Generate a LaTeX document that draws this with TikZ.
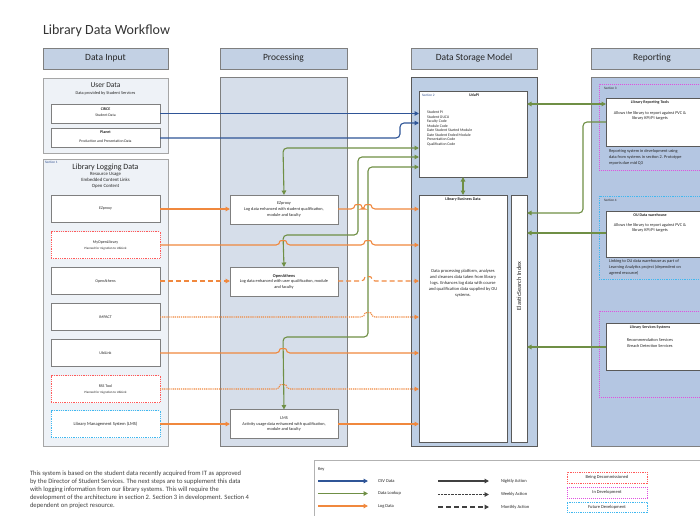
\documentclass[tikz,border=0pt]{standalone}
\usepackage{fontspec}
\setmainfont{Carlito}
\usetikzlibrary{arrows.meta}
\definecolor{cBlue}{HTML}{2F5597}
\definecolor{cGreen}{HTML}{6F8F45}
\definecolor{cOrange}{HTML}{F0883E}
\definecolor{hdrFill}{HTML}{C3D1E4}
\definecolor{inFill}{HTML}{EEF2F7}
\definecolor{procFill}{HTML}{D6DEEA}
\definecolor{storeFill}{HTML}{BDCEE4}
\definecolor{repFill}{HTML}{B4C6E2}
\definecolor{edgeGray}{HTML}{7F7F7F}
\definecolor{txt}{HTML}{262626}
\definecolor{secBlue}{HTML}{2F4F8F}
\definecolor{decomRed}{HTML}{FF5A5A}
\definecolor{devMag}{HTML}{E050E0}
\definecolor{futCyan}{HTML}{40B8F0}
\newcommand\hop[2]{-- (#1-3,#2) .. controls (#1-3,#2-4.5) and (#1+3,#2-4.5) .. (#1+3,#2)}
\begin{document}
\begin{tikzpicture}[x=1pt,y=-1pt,
  >={Triangle[length=4.5pt,width=4.5pt]},
  every node/.style={inner sep=0pt, outer sep=0pt, text=txt, font=\fontsize{4}{5}\selectfont},
  hdrBox/.style={draw=edgeGray, fill=hdrFill, line width=0.9pt, minimum width=#1, minimum height=21pt, font=\fontsize{9.5}{11}\selectfont},
  colBox/.style={draw=edgeGray, line width=0.9pt, minimum width=#1, minimum height=369pt},
  grpBox/.style={draw=gray!70, fill=inFill, line width=0.9pt, minimum width=125pt},
  inBox/.style={draw=edgeGray, fill=white, line width=0.9pt, minimum width=109pt, minimum height=27pt, align=center},
  procBox/.style={draw=edgeGray, fill=white, line width=0.7pt, minimum width=108pt, minimum height=29pt, align=center, font=\fontsize{4.3}{5.6}\selectfont},
  whiteBox/.style={draw=edgeGray!70!black, fill=white, line width=0.7pt},
  decomBox/.style={draw=decomRed, dash pattern=on 1pt off 0.8pt, line width=0.8pt},
  develBox/.style={draw=devMag, dash pattern=on 1.2pt off 0.8pt, line width=0.8pt},
  futureBox/.style={draw=futCyan, dash pattern=on 1pt off 0.8pt, line width=0.8pt},
  connLine/.style={line width=1.1pt, rounded corners=4pt},
  csvLine/.style={connLine, draw=cBlue, ->},
  lookLine/.style={connLine, draw=cGreen, ->},
  logLine/.style={connLine, draw=cOrange, ->},
  dashLog/.style={dash pattern=on 5pt off 3pt},
  dotLog/.style={dash pattern=on 1.2pt off 0.9pt},
  tinyTxt/.style={font=\fontsize{3.2}{4}\selectfont},
  smallTxt/.style={font=\fontsize{4.3}{5.6}\selectfont},
  boldTxt/.style={font=\fontsize{4}{5}\selectfont\bfseries},
  secTxt/.style={font=\fontsize{3.4}{4}\selectfont, anchor=west}
]
\useasboundingbox (0,0) rectangle (700,515);
\clip (0,0) rectangle (700,515);
\fill[white] (0,0) rectangle (700,515);

% title
\node[anchor=west, font=\fontsize{14}{16}\selectfont, text=black!80] (title) at (43,31) {Library Data Workflow};

% headers
\node[hdrBox=125pt] (hIn) at (105.5,58.5) {Data Input};
\node[hdrBox=127pt] (hProc) at (283.5,58.5) {Processing};
\node[hdrBox=126pt] (hStore) at (474,58.5) {Data Storage Model};
\node[hdrBox=122pt] (hRep) at (652,58.5) {Reporting};

% columns
\node[colBox=127pt, fill=procFill] (colProc) at (283.5,261.5) {};
\node[colBox=126pt, fill=storeFill, draw=black!65] (colStore) at (474,261.5) {};
\node[colBox=122pt, fill=repFill] (colRep) at (652,261.5) {};

% data input groups
\node[grpBox, minimum height=75pt] (userGrp) at (105.5,115.5) {};
\node[font=\fontsize{7.5}{9}\selectfont] (userT) at (105.5,85) {User Data};
\node[font=\fontsize{4.3}{5}\selectfont] (userS) at (105.5,93) {Data provided by Student Services};
\node[inBox, minimum height=19pt] (circe) at (105.5,113.5) {};
\node[boldTxt] (circeT) at (105.5,109.5) {CIRCE};
\node[tinyTxt, font=\fontsize{3.8}{4.5}\selectfont] (circeS) at (105.5,115.5) {Student Data};
\node[inBox, minimum height=19pt] (planet) at (105.5,138) {};
\node[boldTxt] (planetT) at (105.5,132.5) {Planet};
\node[font=\fontsize{3.8}{4.5}\selectfont] (planetS) at (105.5,141.5) {Production and Presentation Data};

\node[grpBox, minimum height=287pt] (logGrp) at (105.5,302.5) {};
\node[secTxt, text=secBlue] (sec1) at (45,162.5) {Section 1};
\node[font=\fontsize{8}{9}\selectfont] (logT) at (105.5,167.5) {Library Logging Data};
\node[font=\fontsize{4.8}{6.3}\selectfont, align=center, anchor=north] (logS) at (105.5,172) {Resource Usage\\Embedded Content Links\\Open Content};

\node[inBox] (ezpI) at (105.5,209) {EZproxy};
\node[inBox, decomBox, fill=white] (molI) at (105.5,245) {};
\node (molT) at (105.5,242.5) {MyOpenLibrary};
\node[tinyTxt] (molS) at (105.5,249) {Planned for migration to UbiLink};
\node[inBox] (oaI) at (105.5,281) {OpenAthens};
\node[inBox] (impI) at (105.5,317) {IMPACT};
\node[inBox] (ubiI) at (105.5,353) {UbiLink};
\node[inBox, decomBox, fill=white] (rssI) at (105.5,389) {};
\node (rssT) at (105.5,386) {RSS Tool};
\node[tinyTxt] (rssS) at (105.5,392.5) {Planned for migration to UbiLink};
\node[inBox, futureBox, fill=white, font=\fontsize{4.5}{5.5}\selectfont] (lmsI) at (105.5,424) {Library Management System (LMS)};

% processing
\node[procBox] (ezpP) at (284,209.5) {EZproxy\\Log data enhanced with student qualification,\\module and faculty};
\node[procBox] (oaP) at (284,281.5) {\textbf{OpenAthens}\\Log data enhanced with user qualification, module\\and faculty};
\node[procBox] (lmsP) at (284,424) {LMS\\Activity usage data enhanced with qualification,\\module and faculty};

% storage
\node[whiteBox, minimum width=108pt, minimum height=86pt] (udopi) at (473,134) {};
\node[secTxt, text=secBlue] (sec2) at (422,95) {Section 2};
\node[boldTxt] (udopiT) at (474,95) {UdaPI};
\node[anchor=north west, align=left, font=\fontsize{3.8}{4.5}\selectfont] (udopiL) at (427,111)
  {Student PI\\Student OUCU\\Faculty Code\\Module Code\\Date Student Started Module\\Date Student Ended Module\\Presentation Code\\Qualification Code};
\node[whiteBox, minimum width=88pt, minimum height=247pt] (lbd) at (463,318.5) {};
\node[boldTxt] (lbdT) at (463,199.5) {Library Business Data};
\node[align=center, font=\fontsize{4.5}{6}\selectfont] (lbdS) at (463,283)
  {Data processing platform, analyses\\and cleanses data taken from library\\logs. Enhances log data with course\\and qualification data supplied by OU\\systems.};
\node[whiteBox, minimum width=16pt, minimum height=247pt] (es) at (519,318.5) {};
\node[rotate=90, font=\fontsize{6.3}{7}\selectfont] (esT) at (519,286) {ElasticSearch Index};

% reporting
\node[develBox, fill=repFill, minimum width=106pt, minimum height=86pt] (sec3box) at (652,127) {};
\node[secTxt] (sec3) at (604,88) {Section 3};
\node[whiteBox, minimum width=96pt, minimum height=48pt] (rt) at (654,122) {};
\node[boldTxt] (rtT) at (650,102.5) {Library Reporting Tools};
\node[smallTxt, align=center] (rtS) at (650,116) {Allows the library to report against PVC \&\\library KPI/PI targets};
\node[smallTxt, align=left, anchor=north west] (rtN) at (609,150) {Reporting system in development using\\data from systems in section 2. Prototype\\reports due mid Q3};

\node[futureBox, fill=repFill, minimum width=106pt, minimum height=83pt] (sec4box) at (652,237.5) {};
\node[secTxt] (sec4) at (604,200) {Section 4};
\node[whiteBox, minimum width=96pt, minimum height=46pt] (oudw) at (654,234) {};
\node[boldTxt] (oudwT) at (650,215) {OU Data warehouse};
\node[smallTxt, align=center] (oudwS) at (650,228) {Allows the library to report against PVC \&\\library KPI/PI targets};
\node[smallTxt, align=left, anchor=north west] (oudwN) at (609,260) {Linking to OU data warehouse as part of\\Learning Analytics project (dependent on\\agreed resource)};

\node[develBox, fill=repFill, minimum width=106pt, minimum height=86pt] (sec5box) at (652,354) {};
\node[whiteBox, minimum width=96pt, minimum height=47pt] (lss) at (654,346.5) {};
\node[boldTxt] (lssT) at (650,327.5) {Library Services Systems};
\node[smallTxt, align=center] (lssS) at (650,343) {Recommendation Services\\Breach Detection Services};

% ---- connectors ----
% CSV
\draw[csvLine] (circe.east) -- (udopi.west |- circe.east);
\draw[csvLine] (planet.east) -- (400,138) -- (400,123) -- (udopi.west |- 0,123);
% lookups
\draw[lookLine, <->] (udopi.west |- 0,148) -- (283,148) -- (ezpP.north);
\draw[lookLine, <->] (udopi.west |- 0,157) -- (358,157) -- (358,235) -- (283,235) -- (oaP.north);
\draw[lookLine, <->] (udopi.west |- 0,167) -- (368,167) -- (368,337) -- (283,337) -- (lmsP.north);
\draw[lookLine, <->] (lbd.north) -- (lbd.north |- udopi.south);
\draw[lookLine, <->] (udopi.east |- 0,104) -- (rt.west |- 0,104);
\draw[lookLine] (rt.west |- 0,122) -- (583,122) -- (583,213) -- (es.east |- 0,213);
\draw[lookLine] (oudw.west |- 0,233) -- (es.east |- 0,233);
\draw[lookLine] (lss.west |- 0,347) -- (es.east |- 0,347);
% logs
\draw[logLine] (ezpI.east) -- (ezpP.west |- ezpI.east);
\draw[logLine] (ezpP.east |- ezpI.east) \hop{358}{209} \hop{368}{209} -- (lbd.west |- ezpI.east);
\draw[logLine] (molI.east) \hop{283}{245} \hop{368}{245} -- (lbd.west |- molI.east);
\draw[logLine, dashLog] (oaI.east) -- (oaP.west |- oaI.east);
\draw[logLine, dashLog] (oaP.east |- oaI.east) \hop{368}{281} -- (lbd.west |- oaI.east);
\draw[logLine, dotLog] (impI.east) \hop{368}{317} -- (lbd.west |- impI.east);
\draw[logLine] (ubiI.east) \hop{283}{353} -- (lbd.west |- ubiI.east);
\draw[logLine, dotLog] (rssI.east) \hop{283}{389} -- (lbd.west |- rssI.east);
\draw[logLine] (lmsI.east) -- (lmsP.west);
\draw[logLine] (lmsP.east) -- (lbd.west |- lmsP.east);

% ---- bottom text ----
\node[anchor=north west, align=left, font=\fontsize{6.6}{8.1}\selectfont, text=black!75] (note) at (30,471)
  {This system is based on the student data recently acquired from IT as approved\\
   by the Director of Student Services. The next steps are to supplement this data\\
   with logging information from our library systems. This will require the\\
   development of the architecture in section 2. Section 3 in development. Section 4\\
   dependent on project resource.};

% ---- key ----
\node[draw=gray!60, line width=0.9pt, anchor=north west, minimum width=395pt, minimum height=70pt] (keyBox) at (314,460) {};
\node[anchor=west, font=\fontsize{4.5}{5}\selectfont] (keyT) at (318,469) {Key};
\coordinate (k1a) at (318,481); \coordinate (k1b) at (368,481);
\coordinate (k2a) at (318,493.5); \coordinate (k2b) at (368,493.5);
\coordinate (k3a) at (318,506); \coordinate (k3b) at (368,506);
\draw[csvLine] (k1a) -- (k1b);
\draw[lookLine] (k2a) -- (k2b);
\draw[logLine] (k3a) -- (k3b);
\node[anchor=west, font=\fontsize{4.5}{5}\selectfont] (kl1) at (378,481) {CSV Data};
\node[anchor=west, font=\fontsize{4.5}{5}\selectfont] (kl2) at (378,493.5) {Data Lookup};
\node[anchor=west, font=\fontsize{4.5}{5}\selectfont] (kl3) at (378,506) {Log Data};
\coordinate (k4a) at (438,481); \coordinate (k4b) at (489,481);
\coordinate (k5a) at (438,494.5); \coordinate (k5b) at (489,494.5);
\coordinate (k6a) at (438,507); \coordinate (k6b) at (489,507);
\draw[line width=1.6pt, draw=black!75, ->] (k4a) -- (k4b);
\draw[line width=1.2pt, draw=black!75, dash pattern=on 0.8pt off 0.6pt, ->] (k5a) -- (k5b);
\draw[line width=1.2pt, draw=black!75, dash pattern=on 5pt off 3pt, ->] (k6a) -- (k6b);
\node[anchor=west, font=\fontsize{4.5}{5}\selectfont] (kl4) at (501,481) {Nightly Action};
\node[anchor=west, font=\fontsize{4.5}{5}\selectfont] (kl5) at (501,494.5) {Weekly Action};
\node[anchor=west, font=\fontsize{4.5}{5}\selectfont] (kl6) at (501,507) {Monthly Action};
\node[decomBox, minimum width=80pt, minimum height=11pt, font=\fontsize{4.5}{5}\selectfont] (kb1) at (607,477.5) {Being Decommissioned};
\node[develBox, minimum width=80pt, minimum height=11pt, font=\fontsize{4.5}{5}\selectfont] (kb2) at (607,492.5) {In Development};
\node[futureBox, minimum width=80pt, minimum height=10pt, font=\fontsize{4.5}{5}\selectfont] (kb3) at (607,507) {Future Development};
\end{tikzpicture}
\end{document}
